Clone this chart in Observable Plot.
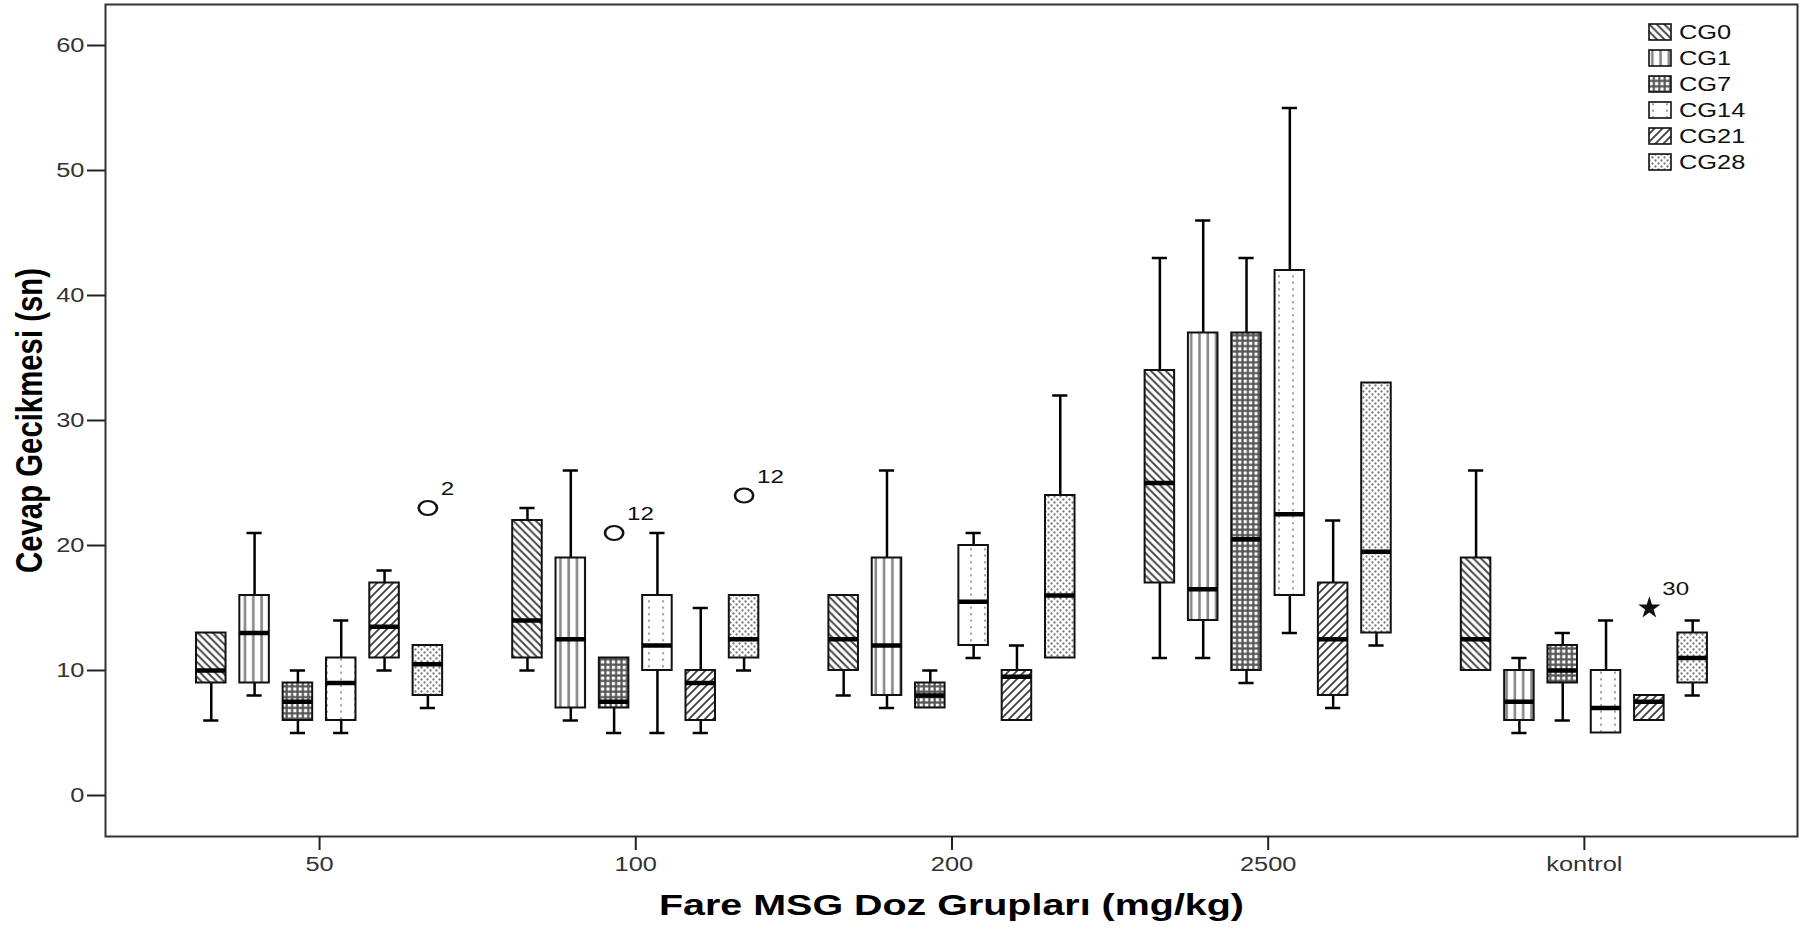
<!DOCTYPE html>
<html><head><meta charset="utf-8">
<script src="https://cdn.jsdelivr.net/npm/d3@7"></script>
<script src="https://cdn.jsdelivr.net/npm/@observablehq/plot@0.6"></script>
<style>
body{margin:0;background:#fff;}
#wrap{position:relative;width:1805px;height:929px;}
.legend{position:absolute;left:1648px;top:19px;font-family:"Liberation Sans",Arial,sans-serif;font-size:20px;color:#111;}
.legend .row{display:flex;align-items:center;height:26px;}
.legend svg{display:block;}
.legend span{display:inline-block;transform:scaleX(1.27);transform-origin:left center;margin-left:7px;}
</style></head><body><div id="wrap"></div>
<script>
// ---- data ----
const groups = ["50", "100", "200", "2500", "kontrol"];
const series = ["CG0", "CG1", "CG7", "CG14", "CG21", "CG28"];
// rows = groups, columns = series
const whiskerLow  = [[6, 8, 5, 5, 10, 7], [10, 6, 5, 5, 5, 10], [8, 7, 7, 11, 6, 11], [11, 11, 9, 13, 7, 12], [10, 5, 6, 5, 6, 8]];
const quart1      = [[9, 9, 6, 6, 11, 8], [11, 7, 7, 10, 6, 11], [10, 8, 7, 12, 6, 11], [17, 14, 10, 16, 8, 13], [10, 6, 9, 5, 6, 9]];
const medians     = [[10, 13, 7.5, 9, 13.5, 10.5], [14, 12.5, 7.5, 12, 9, 12.5], [12.5, 12, 8, 15.5, 9.5, 16], [25, 16.5, 20.5, 22.5, 12.5, 19.5], [12.5, 7.5, 10, 7, 7.5, 11]];
const quart3      = [[13, 16, 9, 11, 17, 12], [22, 19, 11, 16, 10, 16], [16, 19, 9, 20, 10, 24], [34, 37, 37, 42, 17, 33], [19, 10, 12, 10, 8, 13]];
const whiskerHigh = [[13, 21, 10, 14, 18, 12], [23, 26, 11, 21, 15, 16], [16, 26, 10, 21, 12, 32], [43, 46, 43, 55, 22, 33], [26, 11, 13, 14, 8, 14]];
const outlierGroup  = ["50", "100", "100", "kontrol"];
const outlierSeries = ["CG28", "CG7", "CG28", "CG21"];
const outlierValue  = [23, 21, 24, 15];
const outlierCase   = ["2", "12", "12", "30"];
const outlierKind   = ["o", "o", "o", "*"];
const yTicks = [0, 10, 20, 30, 40, 50, 60];
const xTitle = "Fare MSG Doz Grupları (mg/kg)";
const yTitle = "Cevap Gecikmesi (sn)";

// ---- build tables ----
const boxes = [];
groups.forEach((g, gi) => series.forEach((s, si) => boxes.push({
  group: g, gi, series: s, si,
  lo: whiskerLow[gi][si], q1: quart1[gi][si], med: medians[gi][si], q3: quart3[gi][si], hi: whiskerHigh[gi][si]
})));
const outliers = outlierValue.map((v, i) => ({
  gi: groups.indexOf(outlierGroup[i]), si: series.indexOf(outlierSeries[i]),
  value: v, label: outlierCase[i], kind: outlierKind[i]
}));
const DODGE = 0.137, HALF = 0.0467, CAP = 0.024;
const cx = d => d.gi + (d.si - 2.5) * DODGE;
const upper = boxes.filter(d => d.hi > d.q3);
const lower = boxes.filter(d => d.lo < d.q1);

const chart = Plot.plot({
  width: 1805, height: 929,
  marginLeft: 105, marginRight: 8, marginTop: 4, marginBottom: 93,
  style: {fontFamily: '"Liberation Sans", Arial, sans-serif', color: "#222", background: "#fff"},
  x: {type: "linear", domain: [-0.677, 4.674]},
  y: {domain: [-3.28, 63.28]},
  color: {type: "identity"},
  marks: [
    Plot.ruleX(upper, {x: cx, y1: "q3", y2: "hi", stroke: "#000", strokeWidth: 2.5}),
    Plot.ruleX(lower, {x: cx, y1: "lo", y2: "q1", stroke: "#000", strokeWidth: 2.5}),
    Plot.ruleY(upper, {y: "hi", x1: d => cx(d) - CAP, x2: d => cx(d) + CAP, stroke: "#000", strokeWidth: 2.5}),
    Plot.ruleY(lower, {y: "lo", x1: d => cx(d) - CAP, x2: d => cx(d) + CAP, stroke: "#000", strokeWidth: 2.5}),
    Plot.rect(boxes, {x1: d => cx(d) - HALF, x2: d => cx(d) + HALF, y1: "q1", y2: "q3",
      fill: d => `url(#pat-${d.series})`, stroke: "#111", strokeWidth: 2}),
    Plot.ruleY(boxes, {y: "med", x1: d => cx(d) - HALF, x2: d => cx(d) + HALF, stroke: "#000", strokeWidth: 4.5}),
    Plot.dot(outliers.filter(d => d.kind === "o"), {x: cx, y: "value", r: 7, stroke: "#111", strokeWidth: 2, fill: "none"}),
    Plot.dot(outliers.filter(d => d.kind === "*"), {x: cx, y: "value", r: 7, symbol: "star", fill: "#111", stroke: "none"}),
    Plot.text(outliers, {x: cx, y: "value", text: "label", dx: 13, dy: -19, textAnchor: "start", fontSize: 19, fill: "#111"}),
    Plot.frame({stroke: "#333", strokeWidth: 2}),
    Plot.axisY({ticks: yTicks, tickSize: 18, tickPadding: 3, fontSize: 20, label: null, strokeWidth: 2}),
    Plot.axisX({ticks: [0, 1, 2, 3, 4], tickFormat: i => groups[i], tickSize: 14, tickPadding: 6, fontSize: 20, label: null, strokeWidth: 2}),
    Plot.text([yTitle], {frameAnchor: "left", rotate: -90, dx: -75, fontSize: 36, fontWeight: "bold", fill: "#000", textAnchor: "middle", lineAnchor: "middle"}),
    Plot.text([xTitle], {frameAnchor: "bottom", dy: 69, fontSize: 30, fontWeight: "bold", fill: "#000", textAnchor: "middle", lineAnchor: "middle"})
  ]
});

// ---- hatch patterns (style only) ----
const patternDefs = `
<pattern id="pat-CG0" patternUnits="userSpaceOnUse" width="7.5" height="7.5"><rect width="7.5" height="7.5" fill="#fff"/><path d="M-2,-2L9.5,9.5M-2,5.5L2,9.5M5.5,-2L9.5,2" stroke="#444" stroke-width="1.9"/></pattern>
<pattern id="pat-CG1" patternUnits="userSpaceOnUse" width="8.3" height="8"><rect width="8.3" height="8" fill="#fff"/><rect x="3" width="2.6" height="8" fill="#888"/></pattern>
<pattern id="pat-CG7" patternUnits="userSpaceOnUse" width="5.4" height="5.4"><rect width="5.4" height="5.4" fill="#555"/><rect x="1.6" y="1.6" width="3.2" height="3.2" fill="#fff"/></pattern>
<pattern id="pat-CG14" patternUnits="userSpaceOnUse" width="14" height="6.5"><rect width="14" height="6.5" fill="#fff"/><rect x="4" y="2.2" width="2" height="2" fill="#999"/></pattern>
<pattern id="pat-CG21" patternUnits="userSpaceOnUse" width="8" height="8"><rect width="8" height="8" fill="#fff"/><path d="M-2,10L10,-2M-2,2L2,-2M6,10L10,6" stroke="#444" stroke-width="1.9"/></pattern>
<pattern id="pat-CG28" patternUnits="userSpaceOnUse" width="6" height="6"><rect width="6" height="6" fill="#fff"/><circle cx="1.5" cy="1.5" r="1.15" fill="#777"/><circle cx="4.5" cy="4.5" r="1.15" fill="#777"/></pattern>`;
const defs = document.createElementNS("http://www.w3.org/2000/svg", "defs");
defs.innerHTML = patternDefs;
chart.insertBefore(defs, chart.firstChild);

// ---- text shaping to match the stretched SPSS typography ----
function stretch(el, k) {
  const tr = el.getAttribute("transform");
  if (tr) {
    el.setAttribute("transform", tr + ` scale(${k},1)`);
  } else {
    const x = +(el.getAttribute("x") || 0), y = +(el.getAttribute("y") || 0);
    el.removeAttribute("x"); el.removeAttribute("y");
    el.setAttribute("transform", `translate(${x},${y}) scale(${k},1)`);
  }
}
const sel = d3.select(chart);
sel.selectAll('g[aria-label="y-axis tick label"] text').each(function () { stretch(this, 1.27); this.setAttribute("fill", "#333"); });
sel.selectAll('g[aria-label="x-axis tick label"] text').each(function () { stretch(this, 1.27); this.setAttribute("fill", "#333"); });
sel.selectAll("text").each(function () {
  const t = this.textContent;
  if (t === yTitle) { this.setAttribute("textLength", 305); this.setAttribute("lengthAdjust", "spacingAndGlyphs"); }
  if (t === xTitle) { this.setAttribute("textLength", 585); this.setAttribute("lengthAdjust", "spacingAndGlyphs"); }
  if (outlierCase.includes(t) && !this.closest('g[aria-label*="axis"]')) stretch(this, 1.27);
});
sel.selectAll('g[aria-label="dot"] circle').style("transform-box", "fill-box").style("transform-origin", "center").style("transform", "scaleX(1.3)");

const wrap = document.getElementById("wrap");
wrap.appendChild(chart);

// ---- legend ----
const legend = document.createElement("div");
legend.className = "legend";
series.forEach(s => {
  const row = document.createElement("div");
  row.className = "row";
  row.innerHTML = `<svg width="24" height="18"><rect x="1" y="1" width="22" height="16" fill="url(#pat-${s})" stroke="#111" stroke-width="1.6"/></svg><span>${s}</span>`;
  legend.appendChild(row);
});
wrap.appendChild(legend);
</script>
</body></html>
